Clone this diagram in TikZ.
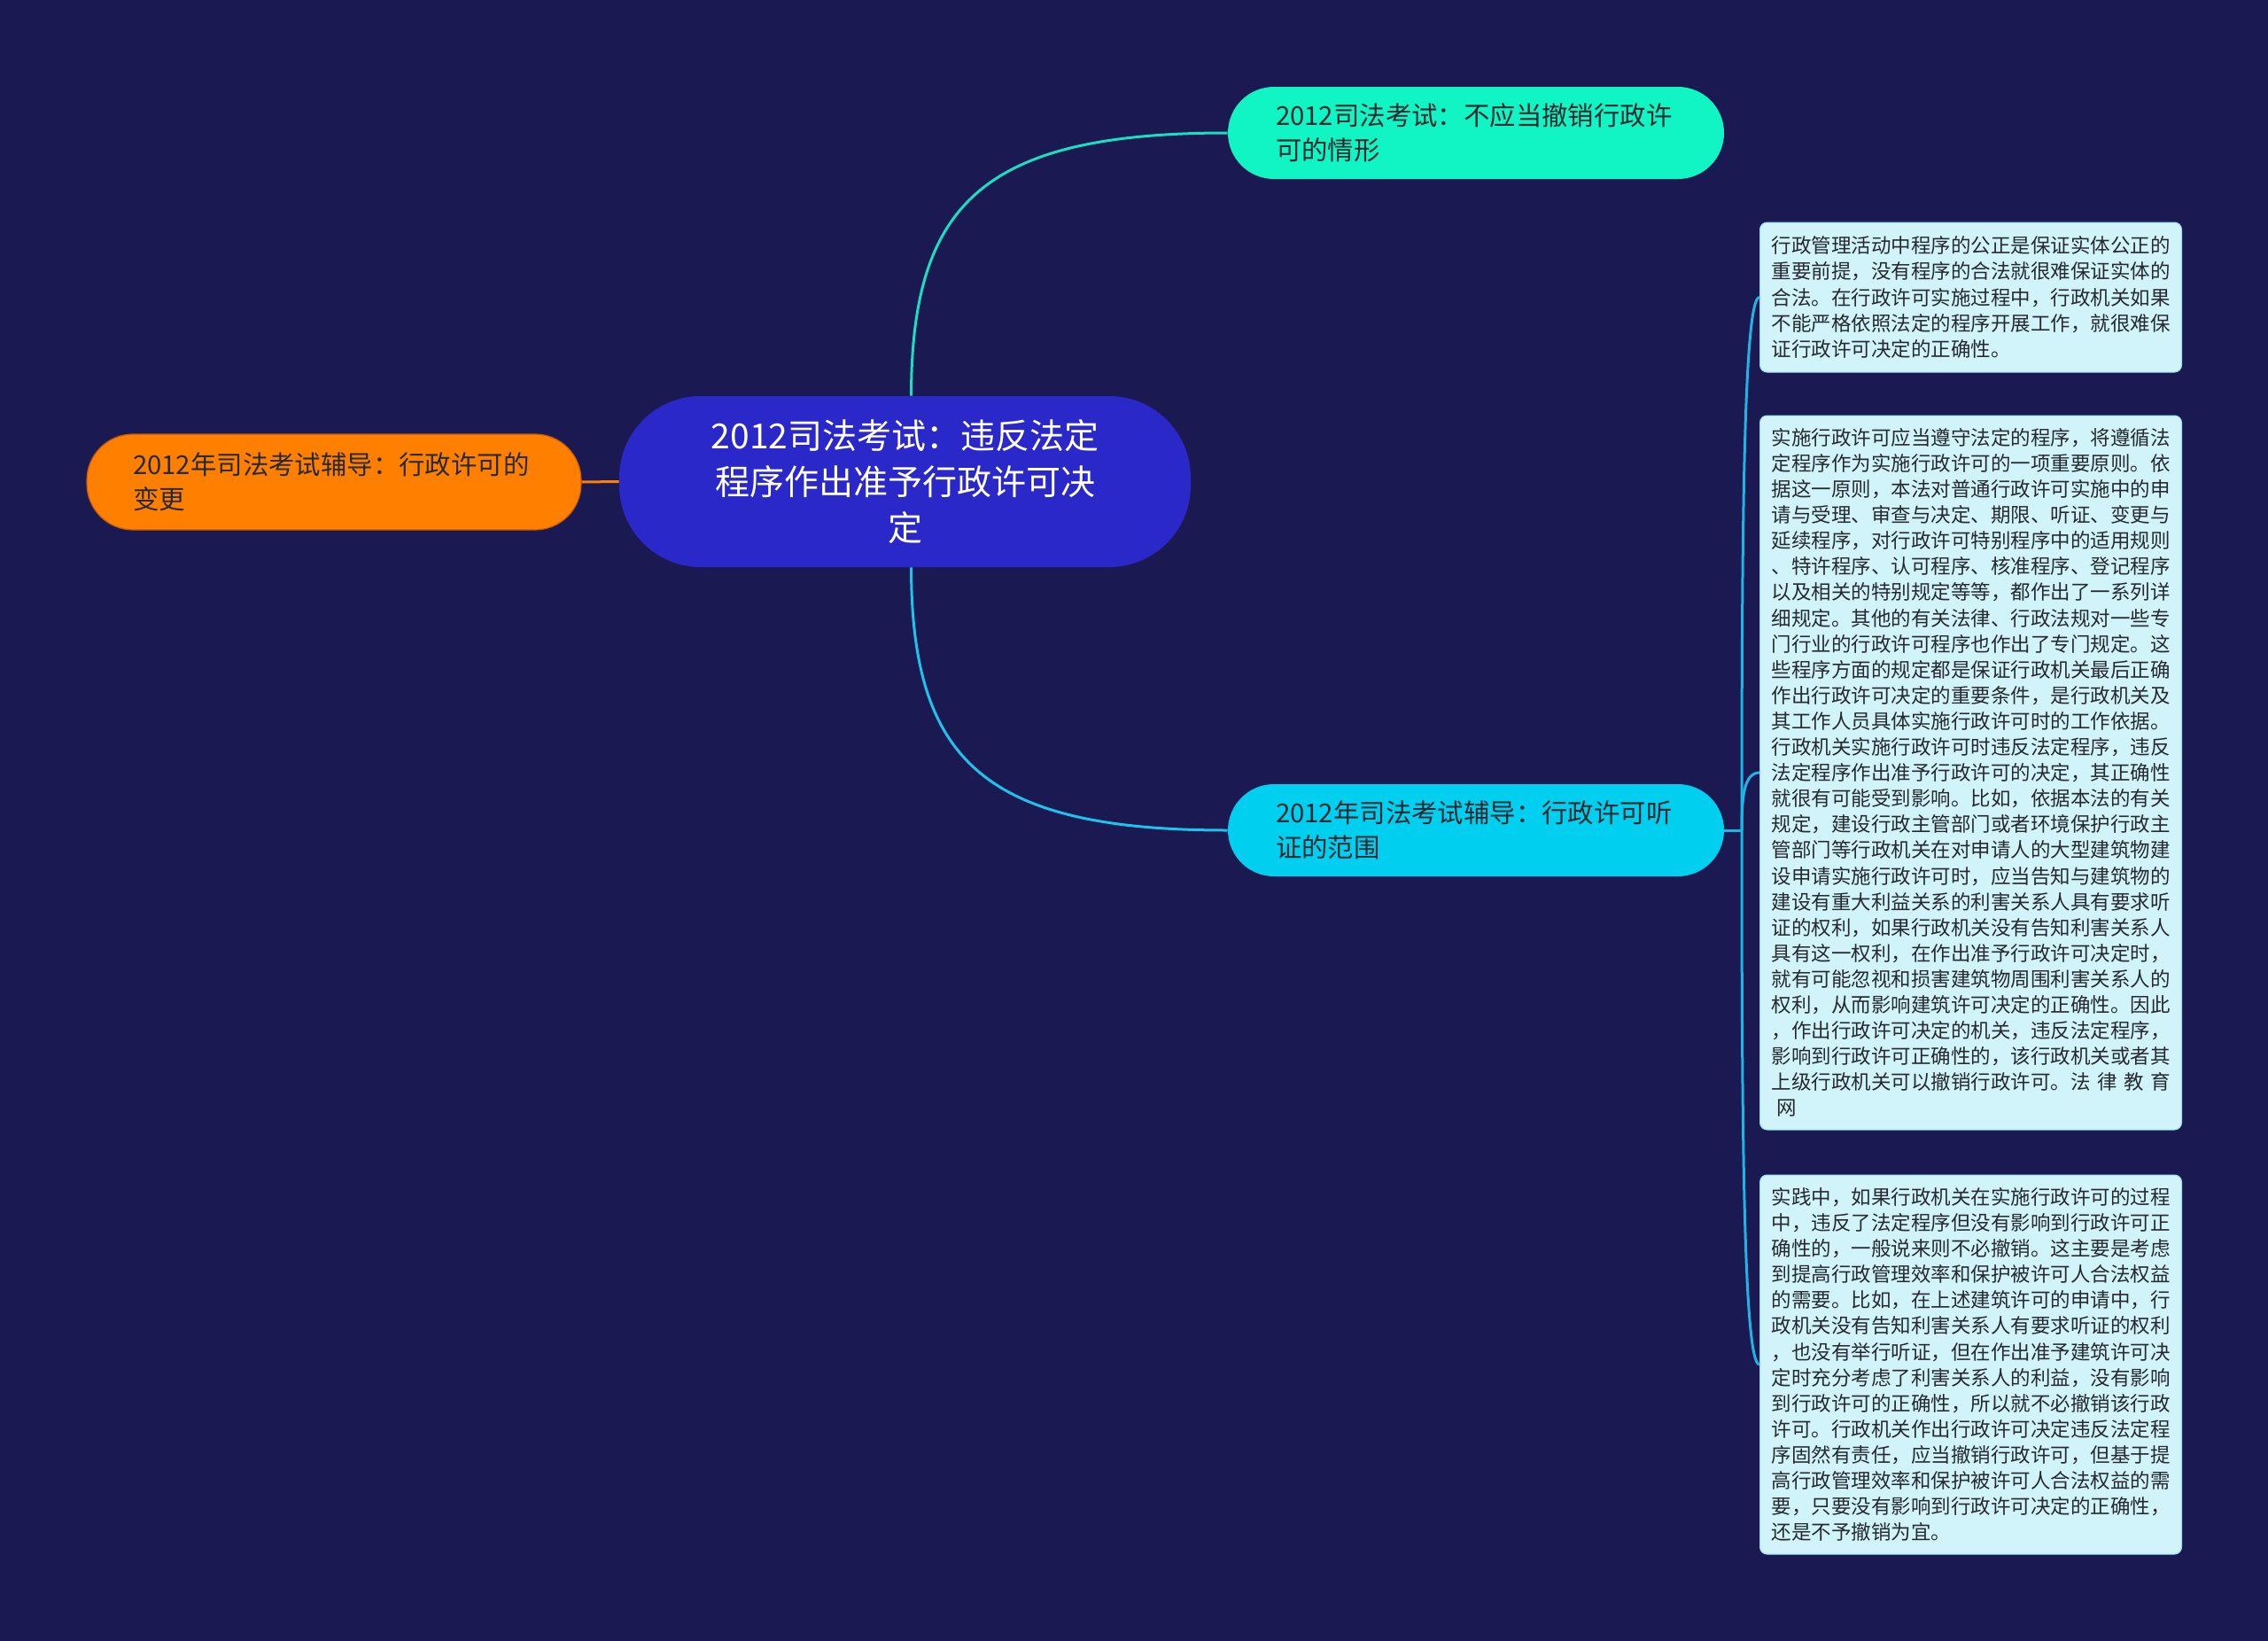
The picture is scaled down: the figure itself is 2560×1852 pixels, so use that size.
\documentclass[tikz,border=0pt]{standalone}
\usepackage{fontspec}
\setmainfont{Noto Sans CJK SC}
\definecolor{bgc}{RGB}{27,25,82}
\definecolor{centerc}{RGB}{42,40,200}
\definecolor{orangec}{RGB}{255,128,0}
\definecolor{orangeb}{RGB}{190,90,10}
\definecolor{mintc}{RGB}{17,244,196}
\definecolor{cyanc}{RGB}{0,207,240}
\definecolor{boxc}{RGB}{209,244,251}
\definecolor{boxb}{RGB}{150,220,240}
\definecolor{darktext}{RGB}{38,42,48}
\definecolor{teall}{RGB}{25,222,195}
\definecolor{cyanl}{RGB}{30,195,235}
\definecolor{bracketl}{RGB}{30,180,228}
\begin{document}
\begin{tikzpicture}[x=0.5pt,y=-0.5pt,
  centernode/.style={fill=centerc, rounded corners=46pt, minimum width=322.5pt, minimum height=96.5pt,
     align=center, text=white, inner sep=0pt, font=\fontsize{19.5}{26}\selectfont},
  leaf/.style={rounded corners=26pt, minimum height=52pt, text width=226pt, inner xsep=27pt, inner ysep=0pt,
     align=left, text=darktext, font=\fontsize{14.7}{19.5}\selectfont},
  textbox/.style={fill=boxc, draw=boxb, line width=0.5pt, rounded corners=4pt, text width=225pt, inner xsep=6.5pt,
     inner ysep=0pt, align=left, text=darktext, font=\fontsize{11.25}{14.55}\selectfont},
  conn/.style={line width=1.5pt}
]
\fill[bgc] (0,0) rectangle (2560,1852);
\useasboundingbox (0,0) rectangle (2560,1852);

\node[centernode] (c) at (1021.5,543.5) {2012司法考试：违反法定\\程序作出准予行政许可决\\定};
\node[leaf, fill=orangec, draw=orangeb, line width=0.6pt, minimum height=54pt, inner xsep=26pt, text width=227pt] (o) at (377,544)
  {2012年司法考试辅导：行政许可的\\变更};
\node[leaf, fill=mintc] (t) at (1666,150) {2012司法考试：不应当撤销行政许\\可的情形};
\node[leaf, fill=cyanc] (h) at (1666,937) {2012年司法考试辅导：行政许可听\\证的范围};

\node[textbox, minimum height=84.5pt] (b1) at (2224.5,335.5) {%
行政管理活动中程序的公正是保证实体公正的\\
重要前提，没有程序的合法就很难保证实体的\\
合法。在行政许可实施过程中，行政机关如果\\
不能严格依照法定的程序开展工作，就很难保\\
证行政许可决定的正确性。};

\node[textbox, minimum height=403pt] (b2) at (2224.5,872) {%
实施行政许可应当遵守法定的程序，将遵循法\\
定程序作为实施行政许可的一项重要原则。依\\
据这一原则，本法对普通行政许可实施中的申\\
请与受理、审查与决定、期限、听证、变更与\\
延续程序，对行政许可特别程序中的适用规则\\
、特许程序、认可程序、核准程序、登记程序\\
以及相关的特别规定等等，都作出了一系列详\\
细规定。其他的有关法律、行政法规对一些专\\
门行业的行政许可程序也作出了专门规定。这\\
些程序方面的规定都是保证行政机关最后正确\\
作出行政许可决定的重要条件，是行政机关及\\
其工作人员具体实施行政许可时的工作依据。\\
行政机关实施行政许可时违反法定程序，违反\\
法定程序作出准予行政许可的决定，其正确性\\
就很有可能受到影响。比如，依据本法的有关\\
规定，建设行政主管部门或者环境保护行政主\\
管部门等行政机关在对申请人的大型建筑物建\\
设申请实施行政许可时，应当告知与建筑物的\\
建设有重大利益关系的利害关系人具有要求听\\
证的权利，如果行政机关没有告知利害关系人\\
具有这一权利，在作出准予行政许可决定时，\\
就有可能忽视和损害建筑物周围利害关系人的\\
权利，从而影响建筑许可决定的正确性。因此\\
，作出行政许可决定的机关，违反法定程序，\\
影响到行政许可正确性的，该行政机关或者其\\
上级行政机关可以撤销行政许可。法\ 律\ 教\ 育\\
\hspace*{3pt}网};

\node[textbox, minimum height=214pt] (b3) at (2224.5,1540) {%
实践中，如果行政机关在实施行政许可的过程\\
中，违反了法定程序但没有影响到行政许可正\\
确性的，一般说来则不必撤销。这主要是考虑\\
到提高行政管理效率和保护被许可人合法权益\\
的需要。比如，在上述建筑许可的申请中，行\\
政机关没有告知利害关系人有要求听证的权利\\
，也没有举行听证，但在作出准予建筑许可决\\
定时充分考虑了利害关系人的利益，没有影响\\
到行政许可的正确性，所以就不必撤销该行政\\
许可。行政机关作出行政许可决定违反法定程\\
序固然有责任，应当撤销行政许可，但基于提\\
高行政管理效率和保护被许可人合法权益的需\\
要，只要没有影响到行政许可决定的正确性，\\
还是不予撤销为宜。};

% connectors
\draw[conn, orangec] (o.east) -- (c.west);
\draw[conn, teall] ([xshift=3.5pt]c.north) .. controls (1029,229) and (1110,150) .. (t.west);
\draw[conn, cyanl] ([xshift=3.5pt]c.south) .. controls (1029,858) and (1110,937) .. (h.west);
\coordinate (br) at (1966,937);
\draw[conn, bracketl] (h.east) -- (br);
\draw[conn, bracketl] (br) .. controls (1966,600) and (1968,335.5) .. (b1.west);
\draw[conn, bracketl] (br) .. controls (1966,901) and (1968,872) .. (b2.west);
\draw[conn, bracketl] (br) .. controls (1966,1275) and (1968,1540) .. (b3.west);
\end{tikzpicture}
\end{document}
